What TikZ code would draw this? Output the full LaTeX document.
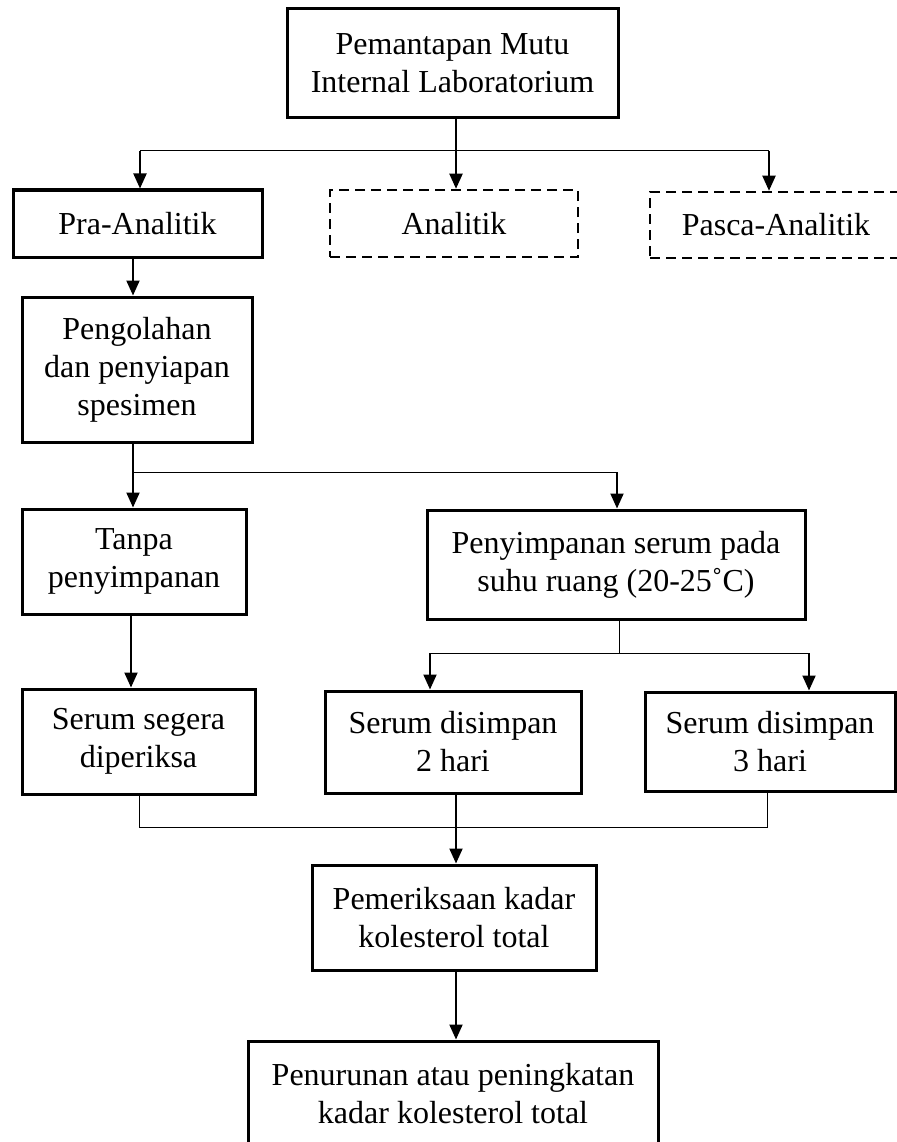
\documentclass[tikz,border=0pt]{standalone}
\usepackage{fontspec}
\setmainfont{Liberation Serif}
\usetikzlibrary{arrows.meta}
\begin{document}
\begin{tikzpicture}[x=1pt,y=-1pt,
 box/.style={draw, line width=3pt, align=center, inner sep=0pt, font=\fontsize{32}{38}\selectfont},
 dbox/.style={box, line width=2.5pt, dash pattern=on 10pt off 6pt},
 arr/.style={line width=2pt, -{Triangle[length=15pt,width=13pt]}},
 link/.style={line width=1pt}]
\fill[white] (0,0) rectangle (896,1142);
\useasboundingbox (0,0) rectangle (896,1142);

\node[box, minimum width=331pt, minimum height=109pt] (top) at (452.5,63.5) {Pemantapan Mutu\\Internal Laboratorium};
\node[box, minimum width=249pt, minimum height=67pt] (pra) at (137.5,223.5) {Pra-Analitik};
\node[dbox, minimum width=248pt, minimum height=67pt] (ana) at (454,223.5) {Analitik};
\node[dbox, minimum width=252pt, minimum height=66pt] (pasca) at (776,225) {Pasca-Analitik};
\node[box, minimum width=230pt, minimum height=145pt] (peng) at (137,369.5) {Pengolahan\\dan penyiapan\\spesimen};
\node[box, minimum width=224pt, minimum height=105pt] (tanpa) at (134,561.5) {Tanpa\\penyimpanan};
\node[box, minimum width=378pt, minimum height=109pt] (penyim) at (616,564.5) {Penyimpanan serum pada\\suhu ruang (20-25˚C)};
\node[box, minimum width=233pt, minimum height=105pt] (segera) at (138.5,741.5) {Serum segera\\diperiksa};
\node[box, minimum width=256pt, minimum height=102pt] (dis2) at (453,742) {Serum disimpan\\2 hari};
\node[box, minimum width=250pt, minimum height=99pt] (dis3) at (770,741.5) {Serum disimpan\\3 hari};
\node[box, minimum width=284pt, minimum height=105pt] (pem) at (454,917.5) {Pemeriksaan kadar\\kolesterol total};
\node[box, minimum width=410pt, minimum height=106pt] (penu) at (453,1094) {Penurunan atau peningkatan\\kadar kolesterol total};

% top branch
\coordinate (j1) at (140,151);
\coordinate (j2) at (769,151);
\draw[link] (j1) -- (j2);
\draw[arr] (top.south -| 456,0) -- (ana.north -| 456,0);
\draw[arr] (j1) -- (j1 |- pra.north);
\draw[arr] (j2) -- (j2 |- pasca.north);
\draw[arr] (pra.south -| 133,0) -- (peng.north -| 133,0);

% second branch
\coordinate (j3) at (133,472);
\coordinate (j4) at (617,472);
\draw[link] (j3) -- (j4);
\draw[arr] (peng.south -| j3) -- (tanpa.north -| j3);
\draw[arr] (j4) -- (j4 |- penyim.north);

% third branch
\coordinate (j5) at (619,653);
\coordinate (j6) at (430,653);
\coordinate (j7) at (809,653);
\draw[link] (penyim.south -| j5) -- (j5);
\draw[link] (j6) -- (j7);
\draw[arr] (j6) -- (j6 |- dis2.north);
\draw[arr] (j7) -- (j7 |- dis3.north);
\draw[arr] (tanpa.south -| 131,0) -- (segera.north -| 131,0);

% join
\coordinate (k1) at (139,827);
\coordinate (k2) at (767,827);
\draw[link] (segera.south -| k1) -- (k1) -- (k2) -- (dis3.south -| k2);
\draw[arr] (dis2.south -| 456,0) -- (pem.north -| 456,0);
\draw[arr] (pem.south -| 456,0) -- (penu.north -| 456,0);
\end{tikzpicture}
\end{document}
